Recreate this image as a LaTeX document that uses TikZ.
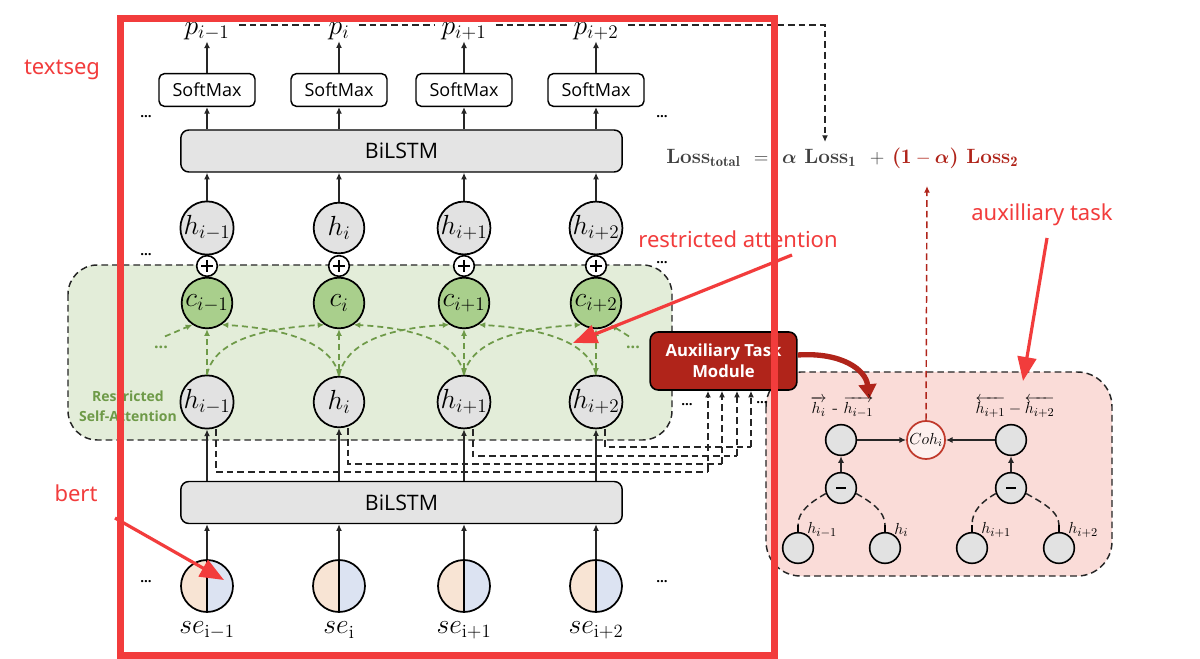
\documentclass[tikz,border=0pt]{standalone}
\usepackage{amsmath}
\usepackage{fontspec}
\usetikzlibrary{arrows.meta,calc}
\newfontfamily\dsans{Open Sans}
\newfontfamily\annfont{Noto Sans}
\definecolor{nodegray}{HTML}{E2E2E2}
\definecolor{boxgray}{HTML}{E4E4E4}
\definecolor{cgreen}{HTML}{A9CF8C}
\definecolor{panelgreen}{HTML}{E3EDD9}
\definecolor{attgreen}{HTML}{6E9A48}
\definecolor{auxred}{HTML}{B0241A}
\definecolor{pinkfill}{HTML}{FADCD8}
\definecolor{cohred}{HTML}{C0392B}
\definecolor{cohfill}{HTML}{FDF0EE}
\definecolor{sepeach}{HTML}{F8E4D4}
\definecolor{seblue}{HTML}{DCE3F2}
\definecolor{lossgray}{HTML}{404040}
\definecolor{annred}{HTML}{F23C3C}
\begin{document}
\begin{tikzpicture}[x=0.75pt,y=-0.75pt,
  hnode/.style={circle, draw, line width=1.3pt, fill=nodegray, minimum size=38pt, inner sep=0pt, font=\fontsize{20}{22}\selectfont},
  cnode/.style={hnode, fill=cgreen},
  senode/.style={circle, draw, line width=1.3pt, minimum size=39pt, inner sep=0pt,
    path picture={\fill[sepeach] (path picture bounding box.south west) rectangle (path picture bounding box.north);
      \fill[seblue] (path picture bounding box.south) rectangle (path picture bounding box.north east);
      \draw[line width=1.1pt] (path picture bounding box.south) -- (path picture bounding box.north);}},
  oplusnode/.style={circle, draw, line width=1.2pt, fill=white, minimum size=15.5pt, inner sep=0pt,
    path picture={\draw[line width=1.3pt] ($(path picture bounding box.center)+(-6,0)$) -- ($(path picture bounding box.center)+(6,0)$);
      \draw[line width=1.3pt] ($(path picture bounding box.center)+(0,-6)$) -- ($(path picture bounding box.center)+(0,6)$);}},
  minusnode/.style={circle, draw, line width=1.2pt, fill=nodegray, minimum size=23pt, inner sep=0pt,
    path picture={\draw[line width=2.2pt] ($(path picture bounding box.center)+(-5,0)$) -- ($(path picture bounding box.center)+(5,0)$);}},
  snode/.style={circle, draw, line width=1.2pt, fill=nodegray, minimum size=23pt, inner sep=0pt},
  sbox/.style={draw, rounded corners=4pt, line width=1.1pt, fill=white, minimum width=72pt, minimum height=24.5pt, inner sep=0pt, font=\dsans\fontsize{13.5}{15}\selectfont},
  lstm/.style={draw, rounded corners=6pt, line width=1.1pt, fill=boxgray, minimum width=331pt, minimum height=31.5pt, inner sep=0pt, font=\dsans\fontsize{16}{18}\selectfont},
  plab/.style={inner sep=1pt, font=\fontsize{20}{22}\selectfont},
  arr/.style={-{Latex[length=5pt,width=4.5pt]}, line width=1.1pt, draw=black!85},
  dline/.style={dash pattern=on 5pt off 3pt, line width=1.1pt, draw=black!85},
  darr/.style={dline, -{Latex[length=5pt,width=4.5pt]}},
  garr/.style={-{Latex[length=5pt,width=4.5pt]}, dash pattern=on 4.5pt off 3pt, line width=1.3pt, draw=attgreen},
  garrb/.style={{Latex[length=5pt,width=4.5pt]}-{Latex[length=5pt,width=4.5pt]}, dash pattern=on 4.5pt off 3pt, line width=1.3pt, draw=attgreen},
  dotsn/.style={inner sep=0pt, font=\dsans\bfseries\fontsize{10}{12}\selectfont},
  annarr/.style={draw=annred, line width=2.4pt, -{Triangle[length=18pt,width=14pt]}},
  anntext/.style={inner sep=0pt, text=annred, font=\annfont\fontsize{16.5}{19}\selectfont}
]
\useasboundingbox (0,0) rectangle (1200,659);
\fill[white] (0,0) rectangle (1200,659);

% panels
\draw[dline, fill=pinkfill, rounded corners=26pt] (766,372) rectangle (1112,576);
\draw[dline, fill=panelgreen, rounded corners=22pt] (68,265) rectangle (672,440);

% BiLSTM boxes
\node[lstm] (lstm1) at (401.5,151) {BiLSTM};
\node[lstm] (lstm2) at (401.5,502.5) {BiLSTM};

% columns
\foreach \i/\x/\s in {1/207/{i-1},2/339/i,3/464/{i+1},4/596/{i+2}}{
  \node[plab] (p\i) at (\x,31) {$p_{\s}$};
  \node[sbox] (sm\i) at (\x,90) {SoftMax};
  \node[hnode] (hu\i) at (\x,228) {$h_{\s}$};
  \node[cnode] (c\i) at (\x,303) {$c_{\s}$};
  \node[oplusnode] (o\i) at (\x,266) {};
  \node[hnode] (hl\i) at (\x,402) {$h_{\s}$};
  \node[senode] (se\i) at (\x,586) {};
  \node[plab] (sl\i) at (\x,630) {$se_{\mathrm{\s}}$};
  \draw[arr] (sm\i.north) -- (p\i.south);
  \draw[arr] (lstm1.north -| sm\i) -- (sm\i.south);
  \draw[arr] (hu\i.north) -- (hu\i.north |- lstm1.south);
  \draw[arr] (lstm2.north -| hl\i) -- (hl\i.south);
  \draw[arr] (se\i.north) -- (se\i.north |- lstm2.south);
}

% dots
\node[dotsn] (d1) at (146,117) {...};
\node[dotsn] (d2) at (662,117) {...};
\node[dotsn] (d3) at (146,255) {...};
\node[dotsn] (d4) at (662,263) {...};
\node[dotsn] (d5) at (146,582) {...};
\node[dotsn] (d6) at (662,582) {...};
\node[dotsn] (d7) at (687,405) {...};
\node[dotsn] (d8) at (762,403) {...};

% restricted self-attention label
\node[text=attgreen, font=\dsans\bfseries\fontsize{10.5}{15}\selectfont, align=center] (rsa) at (128,406) {Restricted\\Self-Attention};

% green attention arrows
\node[text=attgreen, inner sep=0pt, font=\dsans\bfseries\fontsize{12}{12}\selectfont] (gdl) at (161,347) {...};
\node[text=attgreen, inner sep=0pt, font=\dsans\bfseries\fontsize{12}{12}\selectfont] (gdr) at (633,347) {...};
\draw[garr] ($(gdl.north)+(4,-9)$) -- (c1.236);
\draw[garr] ($(gdr.north)+(-4,-9)$) -- (c4.304);
\draw[garr] (hl1.north) -- (c1.south);
\draw[garrb] (hl2.north) -- (c2.south);
\draw[garrb] (hl3.north) -- (c3.south);
\draw[garrb] (hl4.north) -- (c4.south);
\foreach \a/\b in {1/2,2/3,3/4}{
  \draw[garr] (hl\a.north) .. controls +(8,-38) and +(-50,3) .. (c\b.236);
  \draw[garr] (hl\b.north) .. controls +(-8,-38) and +(50,3) .. (c\a.304);
}

% top dashed line to loss
\coordinate (topline) at (0,25);
\coordinate (lossin) at (825,142);
\draw[dline] ([xshift=6pt]p1.east |- topline) -- ([xshift=-4pt]p2.west |- topline);
\draw[dline] ([xshift=6pt]p2.east |- topline) -- ([xshift=-4pt]p3.west |- topline);
\draw[dline] ([xshift=6pt]p3.east |- topline) -- ([xshift=-4pt]p4.west |- topline);
\draw[darr] ([xshift=6pt]p4.east |- topline) -| (lossin);

% loss formula
\node[anchor=west, inner sep=0pt, text=lossgray, font=\fontsize{15.5}{18}\selectfont\bfseries] (loss) at (666,158)
 {Loss$_{\mathbf{total}}$ \;$=$\; $\boldsymbol{\alpha}$ Loss$_{\mathbf{1}}$ \;$+$ \textcolor{auxred}{($\mathbf{1}-\boldsymbol{\alpha}$) Loss$_{\mathbf{2}}$}};

% auxiliary module
\node[draw, line width=1.2pt, rounded corners=6pt, fill=auxred, minimum width=110pt, minimum height=43.5pt, inner sep=0pt, text=white, align=center, font=\dsans\bfseries\fontsize{12.5}{16}\selectfont] (aux) at (723.5,361) {Auxiliary Task\\Module};

\foreach \i/\t/\l in {1/708/472,2/722/464,3/737/456,4/751/447}{
  \coordinate (t\i) at (\t,\l);
  \draw[dline] ($(hl\i.south)+(9,0)$) |- (t\i);
  \draw[darr] (t\i) -- (t\i |- aux.south);
}

% big curved arrow to aux panel
\coordinate (auxtip) at (869,399);
\draw[draw=auxred, line width=4pt, -{Triangle[length=11pt,width=13pt]}] ($(aux.east)+(0,-6)$) .. controls (842,352) and (866,370) .. (auxtip);

% pink panel contents
\node[snode] (g1) at (841,440) {};
\node[circle, draw=cohred, line width=1.3pt, fill=cohfill, minimum size=28.5pt, inner sep=0pt, font=\fontsize{12}{14}\selectfont] (coh) at (926,440) {$Coh_i$};
\node[snode] (g2) at (1011,440) {};
\node[minusnode] (m1) at (841,488) {};
\node[minusnode] (m2) at (1011,488) {};
\node[snode] (b1) at (798,548) {};
\node[snode] (b2) at (885,548) {};
\node[snode] (b3) at (972,548) {};
\node[snode] (b4) at (1059,548) {};
\draw[arr] (g1) -- (coh);
\draw[arr] (g2) -- (coh);
\draw[arr] (m1) -- (g1);
\draw[arr] (m2) -- (g2);
\foreach \m/\l/\r in {m1/b1/b2, m2/b3/b4}{
  \draw[dline] (\m.200) .. controls +(-14,8) and +(0,-14) .. ($(\l.north)+(0,-7)$);
  \draw[line width=1.1pt] ($(\l.north)+(0,-7)$) -- (\l.north);
  \draw[dline] (\m.-20) .. controls +(14,8) and +(0,-14) .. ($(\r.north)+(0,-7)$);
  \draw[line width=1.1pt] ($(\r.north)+(0,-7)$) -- (\r.north);
}
\node[anchor=west, inner sep=0pt, font=\fontsize{13}{14}\selectfont] (lb1) at ($(b1.north)+(9,-2)$) {$h_{i-1}$};
\node[anchor=west, inner sep=0pt, font=\fontsize{13}{14}\selectfont] (lb2) at ($(b2.north)+(9,-2)$) {$h_{i}$};
\node[anchor=west, inner sep=0pt, font=\fontsize{13}{14}\selectfont] (lb3) at ($(b3.north)+(9,-2)$) {$h_{i+1}$};
\node[anchor=west, inner sep=0pt, font=\fontsize{13}{14}\selectfont] (lb4) at ($(b4.north)+(9,-2)$) {$h_{i+2}$};
\node[inner sep=0pt, font=\fontsize{13}{14}\selectfont] (tl1) at (842,407) {$\overrightarrow{h_i}$ - $\overrightarrow{h_{i-1}}$};
\node[inner sep=0pt, font=\fontsize{13}{14}\selectfont] (tl2) at (1015,407) {$\overleftarrow{h_{i+1}}-\overleftarrow{h_{i+2}}$};

% red dashed to loss2
\coordinate (losstwo) at (927,186);
\draw[draw=auxred, dash pattern=on 5pt off 3pt, line width=1.1pt, -{Latex[length=5pt,width=4.5pt]}] (coh.north) -- (losstwo);

% annotations
\node[anntext] (ts) at (62,70) {textseg};
\node[anntext] (bt) at (76,493) {bert};
\node[anntext] (ra) at (738,239) {restricted attention};
\node[anntext] (at) at (1042,215) {auxilliary task};
\coordinate (bertfrom) at (115,518);
\coordinate (berttip) at (224,580);
\coordinate (rafrom) at (792,255);
\coordinate (ratip) at (573,343);
\coordinate (atfrom) at (1047,238);
\coordinate (attip) at (1023,381);
\draw[annarr] (bertfrom) -- (berttip);
\draw[annarr] (rafrom) -- (ratip);
\draw[annarr] (atfrom) -- (attip);
\draw[draw=annred, line width=5.25pt] (120.5,19) rectangle (774.5,655);
\end{tikzpicture}
\end{document}
